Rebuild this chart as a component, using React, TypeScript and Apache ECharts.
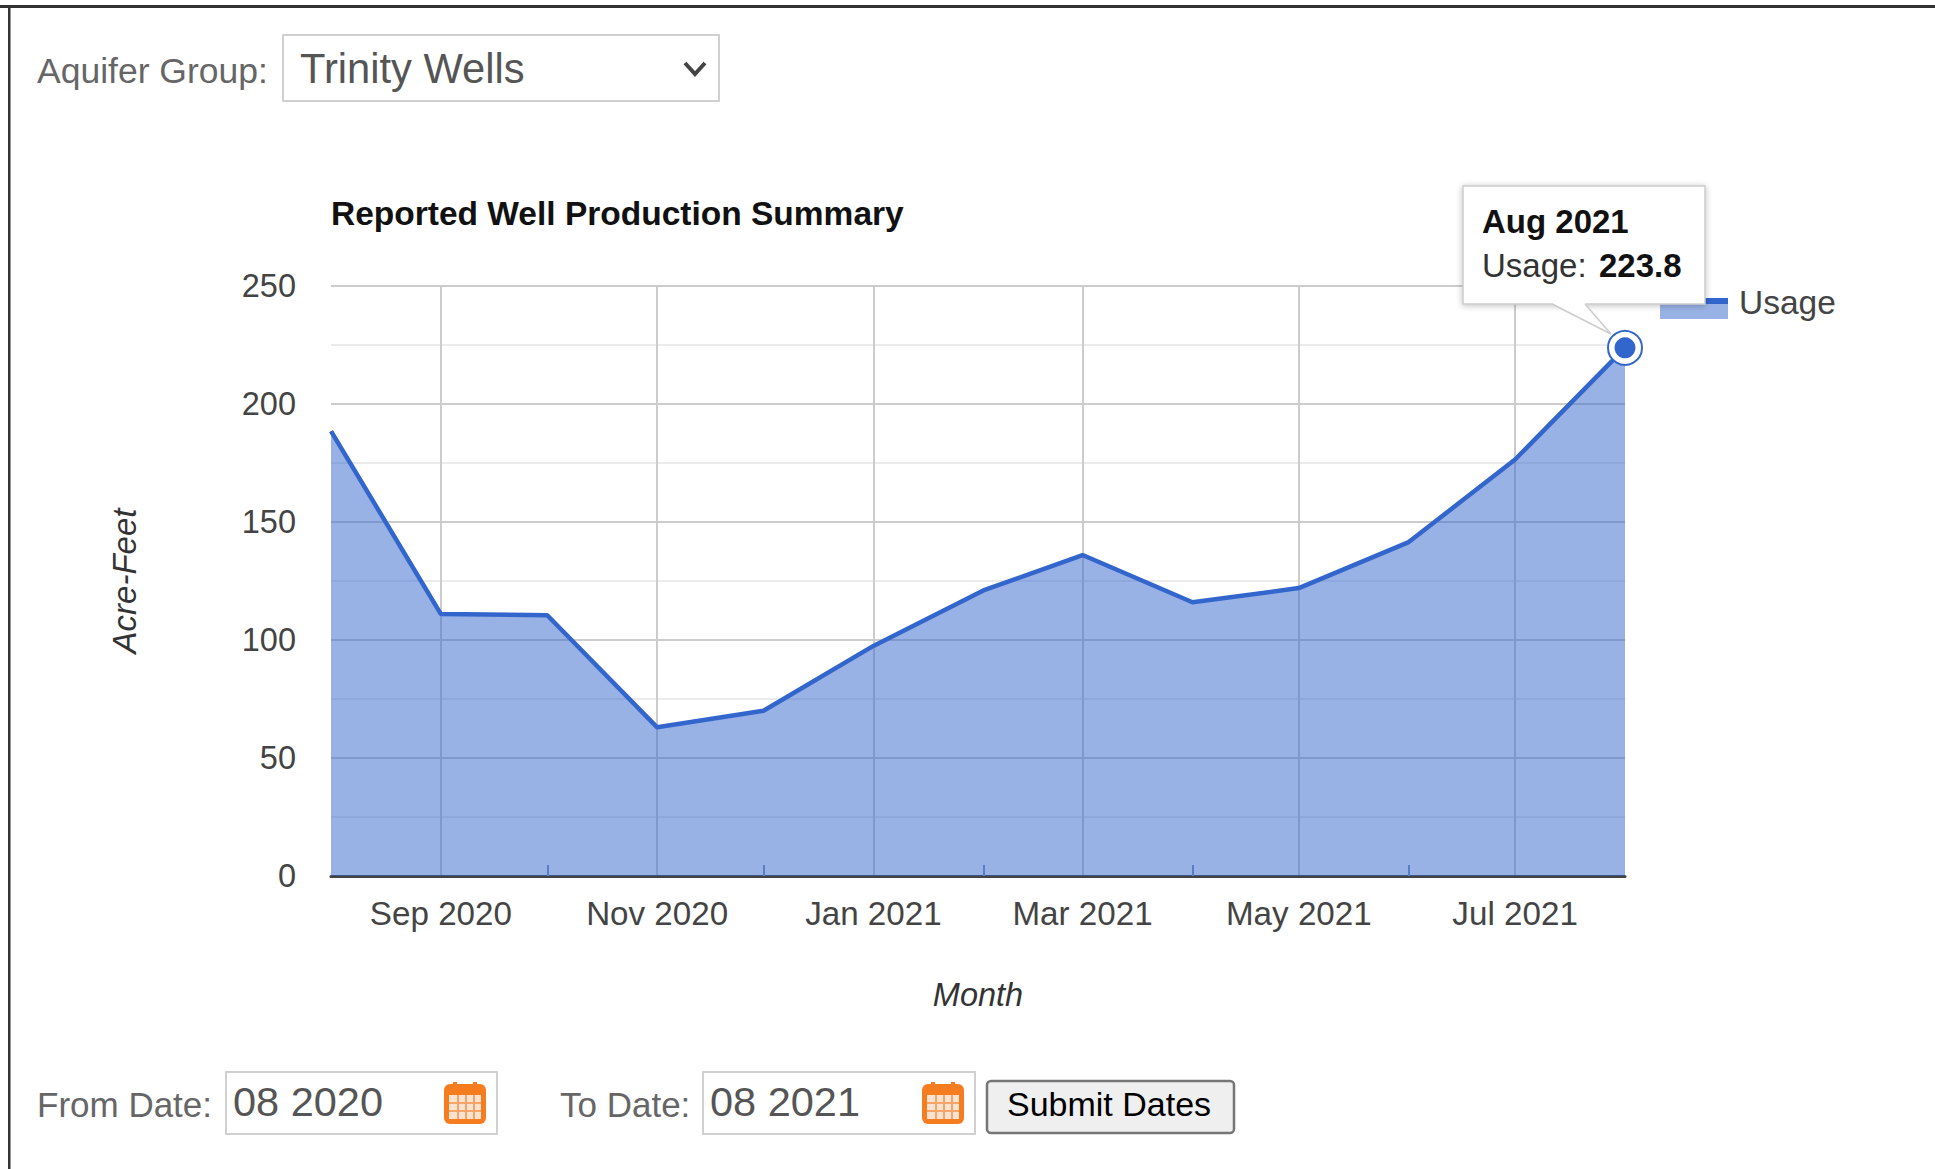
import React, { useEffect, useRef } from "react";
import * as echarts from "echarts";

const months = ["Aug 2020","Sep 2020","Oct 2020","Nov 2020","Dec 2020","Jan 2021","Feb 2021","Mar 2021","Apr 2021","May 2021","Jun 2021","Jul 2021","Aug 2021"];
const usage = [188.5, 111, 110.5, 63, 70, 97.5, 121, 136, 116, 122, 141.5, 176.5, 223.8];
const yTicks = [0, 50, 100, 150, 200, 250];
const seriesName = "Usage";
const chartTitle = "Reported Well Production Summary";
const FONT = '"Liberation Sans", Arial, sans-serif';
const BLUE = "#3366cc";

const MON = ["Jan","Feb","Mar","Apr","May","Jun","Jul","Aug","Sep","Oct","Nov","Dec"];
const toTime = (m: string) => {
  const [a, b] = m.split(" ");
  return Date.UTC(Number(b), MON.indexOf(a), 1);
};
const times = months.map(toTime);
const labelTimes = times.filter((_, i) => i % 2 === 1);
const minorTimes = times.filter((_, i) => i % 2 === 0 && i > 0 && i < times.length - 1);
const points = times.map((t, i) => [t, usage[i]]);
const lastPoint = points[points.length - 1];

const txt = (text: string, x: number, y: number, size: number, fill: string, weight = "normal", z = 20) => ({
  type: "text", x, y, z,
  style: { text, fill, font: `${weight} ${size}px ${FONT}`, textVerticalAlign: "middle", textAlign: "left" },
});

const box = (x: number, y: number, w: number, h: number, stroke = "#d0d0d0", fill = "#fff", r = 0, lw = 2) => ({
  type: "rect", z: 19,
  shape: { x, y, width: w, height: h, r },
  style: { fill, stroke, lineWidth: lw },
});

const calendar = (x: number, y: number) => {
  const out: any[] = [
    { type: "rect", z: 20, shape: { x, y: y + 2, width: 42, height: 40, r: 6 }, style: { fill: "#f57c1f" } },
    { type: "rect", z: 21, shape: { x: x + 5, y: y + 13, width: 32, height: 24 }, style: { fill: "#fde3cf" } },
    { type: "rect", z: 21, shape: { x: x + 9, y: y, width: 4, height: 8 }, style: { fill: "#f57c1f" } },
    { type: "rect", z: 21, shape: { x: x + 29, y: y, width: 4, height: 8 }, style: { fill: "#f57c1f" } },
  ];
  for (const dx of [13, 21, 29]) out.push({ type: "rect", z: 22, shape: { x: x + dx, y: y + 13, width: 2, height: 24 }, style: { fill: "#f7a468" } });
  for (const dy of [20, 28]) out.push({ type: "rect", z: 22, shape: { x: x + 5, y: y + dy, width: 32, height: 2 }, style: { fill: "#f7a468" } });
  return out;
};

export default function App() {
  const ref = useRef<HTMLDivElement>(null);
  useEffect(() => {
    const chart = echarts.init(ref.current!, undefined, { renderer: "svg" });
    const axisBase = { type: "value", min: times[0], max: times[times.length - 1], scale: true };
    chart.setOption({
      animation: false,
      backgroundColor: "#fff",
      textStyle: { fontFamily: FONT },
      title: {
        text: chartTitle, left: 331, top: 196, padding: 0,
        textStyle: { fontFamily: FONT, fontSize: 33.5, fontWeight: "bold", color: "#111" },
      },
      grid: { left: 331, right: 310, top: 286, bottom: 293 },
      legend: {
        data: [seriesName], left: 1660, top: 285, padding: 0, icon: "rect",
        itemWidth: 68, itemHeight: 21, itemGap: 0,
        itemStyle: { color: "rgba(0,0,0,0)", borderWidth: 0 },
        lineStyle: { width: 0 },
        textStyle: { fontFamily: FONT, fontSize: 33.5, color: "#444", padding: [0, 0, 0, 6] },
      },
      xAxis: [
        {
          ...axisBase,
          name: "Month", nameLocation: "middle", nameGap: 102,
          nameTextStyle: { fontFamily: FONT, fontSize: 32.5, fontStyle: "italic", color: "#333" },
          axisLine: { show: true, onZero: false, lineStyle: { color: "#444", width: 3 } },
          axisTick: { show: false, customValues: labelTimes },
          axisLabel: {
            show: true, customValues: labelTimes, hideOverlap: false, margin: 21,
            fontFamily: FONT, fontSize: 33.2, color: "#444",
            formatter: (v: number) => months[times.indexOf(v)] ?? "",
          },
          splitLine: { show: true, lineStyle: { color: "#cccccc", width: 2 } },
          minorTick: { show: false },
        },
        {
          ...axisBase,
          position: "bottom",
          axisLine: { show: false, onZero: false },
          axisLabel: { show: false },
          splitLine: { show: false },
          axisTick: { show: true, inside: true, length: 11, customValues: minorTimes, lineStyle: { color: "#7f95c4", width: 2 } },
        },
      ],
      yAxis: {
        type: "value", min: yTicks[0], max: yTicks[yTicks.length - 1], interval: 50,
        name: "Acre-Feet", nameLocation: "middle", nameGap: 190,
        nameTextStyle: { fontFamily: FONT, fontSize: 33, fontStyle: "italic", color: "#333" },
        axisLine: { show: false },
        axisTick: { show: false },
        axisLabel: { margin: 35, fontFamily: FONT, fontSize: 32.5, color: "#444" },
        splitLine: { show: true, lineStyle: { color: "#cccccc", width: 2 } },
        minorTick: { show: false, splitNumber: 2 },
        minorSplitLine: { show: true, lineStyle: { color: "#ebebeb", width: 2 } },
      },
      series: [
        {
          name: seriesName, type: "line", data: points, xAxisIndex: 0, showSymbol: false, clip: false, z: 2,
          lineStyle: { color: BLUE, width: 4.5 },
          itemStyle: { color: BLUE },
          areaStyle: { color: BLUE, opacity: 0.5 },
        },
        {
          type: "scatter", data: [lastPoint], xAxisIndex: 0, symbolSize: 34, clip: false, z: 3,
          itemStyle: { color: "#fff", borderColor: BLUE, borderWidth: 2, opacity: 1 },
        },
        {
          type: "scatter", data: [lastPoint], xAxisIndex: 0, symbolSize: 21, clip: false, z: 4,
          itemStyle: { color: BLUE, opacity: 1 },
        },
      ],
      graphic: [
        // page frame
        { type: "rect", z: 1, shape: { x: 0, y: 5, width: 1935, height: 3 }, style: { fill: "#333" } },
        { type: "rect", z: 1, shape: { x: 8, y: 5, width: 2.5, height: 1164 }, style: { fill: "#333" } },
        // aquifer select
        txt("Aquifer Group:", 37, 71, 35.5, "#666"),
        box(283, 35, 436, 66),
        txt("Trinity Wells", 300, 68, 41.7, "#555"),
        {
          type: "polyline", z: 20,
          shape: { points: [[685, 63], [695, 74], [705, 63]] },
          style: { stroke: "#444", lineWidth: 4, fill: "none" },
        },
        // legend swatch
        { type: "rect", z: 5, shape: { x: 1660, y: 298, width: 68, height: 21 }, style: { fill: "#99b2e5" } },
        { type: "rect", z: 6, shape: { x: 1660, y: 298, width: 68, height: 6 }, style: { fill: BLUE } },
        // tooltip
        {
          type: "rect", z: 30,
          shape: { x: 1463, y: 186, width: 242, height: 118 },
          style: { fill: "#fff", stroke: "#ccc", lineWidth: 1.5, shadowBlur: 6, shadowColor: "rgba(0,0,0,0.25)", shadowOffsetY: 1 },
        },
        { type: "polygon", z: 31, shape: { points: [[1552, 303], [1585, 303], [1611, 334]] }, style: { fill: "#fff" } },
        { type: "polyline", z: 31, shape: { points: [[1552, 304], [1611, 334], [1585, 304]] }, style: { stroke: "#ccc", lineWidth: 1.5, fill: "none" } },
        txt("Aug 2021", 1482, 221, 33, "#111", "bold", 32),
        txt("Usage:", 1482, 265, 33, "#333", "normal", 32),
        txt("223.8", 1599, 265, 33, "#111", "bold", 32),
        // date controls
        txt("From Date:", 37, 1104, 35, "#666"),
        box(226, 1072, 271, 62),
        txt("08 2020", 233, 1101, 41.5, "#555"),
        ...calendar(444, 1082),
        txt("To Date:", 560, 1104, 35, "#666"),
        box(703, 1072, 272, 62),
        txt("08 2021", 710, 1101, 41.5, "#555"),
        ...calendar(922, 1082),
        box(987, 1081, 247, 52, "#767676", "#efefef", 4, 2.5),
        txt("Submit Dates", 1007, 1104, 34, "#000"),
      ],
    });
    return () => chart.dispose();
  }, []);
  return (
    <div
      ref={ref}
      style={{ position: "fixed", left: 0, top: 0, width: 1935, height: 1169, background: "#fff" }}
    />
  );
}
